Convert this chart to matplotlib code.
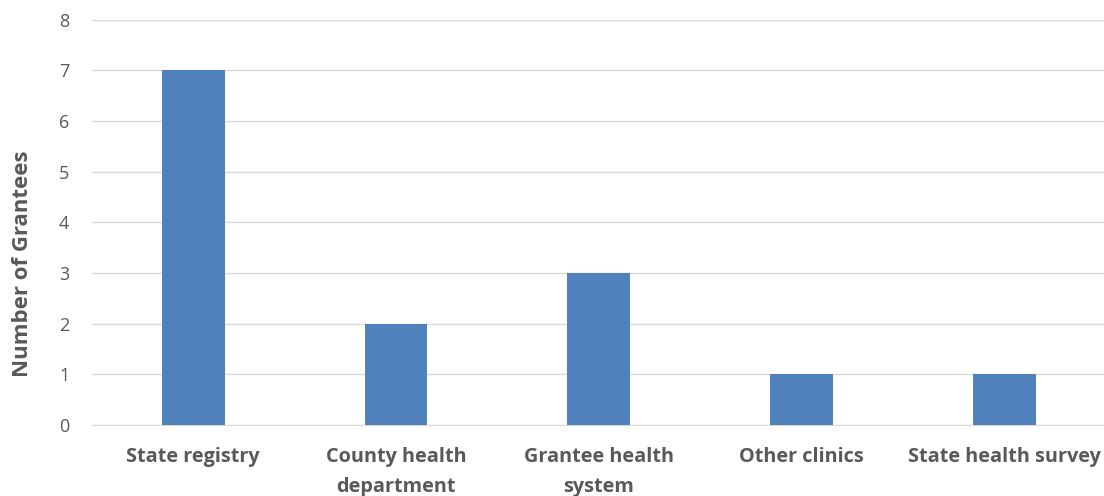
import matplotlib
matplotlib.use("Agg")
import matplotlib.pyplot as plt

categories = ["State registry", "County health\ndepartment", "Grantee health\nsystem", "Other clinics", "State health survey"]
values = [7, 2, 3, 1, 1]
yticks = [0, 1, 2, 3, 4, 5, 6, 7, 8]

plt.rcParams['font.family'] = ['Open Sans', 'DejaVu Sans']

fig = plt.figure(figsize=(11.04, 4.96), dpi=100)
ax = fig.add_axes([0.083, 0.143, 0.919, 0.817])
x = list(range(len(categories)))
ax.bar(x, values, width=0.31, color="#4F81BD", zorder=3)
ax.set_xlim(-0.5, len(categories) - 0.5)
ax.set_ylim(0, 8)
ax.set_yticks(yticks)
ax.set_yticklabels([str(t) for t in yticks], fontsize=13, color="#595959")
ax.set_xticks(x)
ax.set_xticklabels(categories, fontsize=14.3, fontweight="bold", color="#595959", linespacing=1.62)
ax.tick_params(axis="x", length=0, pad=16)
ax.tick_params(axis="y", length=0, pad=16)
ax.grid(axis="y", color="#D9D9D9", linewidth=1, zorder=0)
for s in ["top", "right", "left"]:
    ax.spines[s].set_visible(False)
ax.spines["bottom"].set_color("#D9D9D9")
ax.set_ylabel("Number of Grantees", fontsize=16, fontweight="bold", color="#595959")
ax.yaxis.set_label_coords(-0.058, 0.397)
fig.savefig("out.png", dpi=100)
